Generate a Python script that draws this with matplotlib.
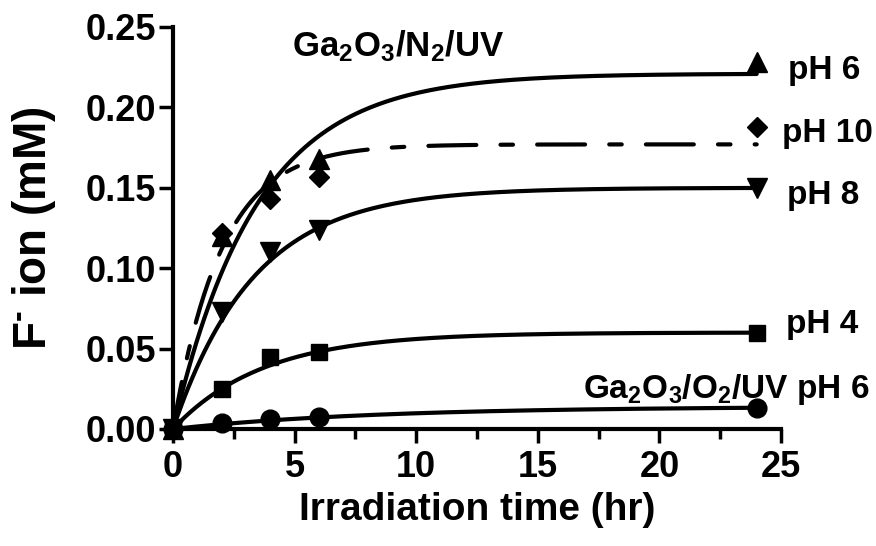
import numpy as np
import matplotlib
matplotlib.use("Agg")
import matplotlib.pyplot as plt
from matplotlib.ticker import MultipleLocator

# sampled points (hr, mM)
time = [0, 2, 4, 6, 24]
ph6 = [0, 0.120, 0.155, 0.168, 0.228]
ph10 = [0, 0.122, 0.143, 0.157, 0.188]
ph8 = [0, 0.073, 0.110, 0.124, 0.150]
ph4 = [0, 0.025, 0.045, 0.048, 0.060]
o2_ph6 = [0, 0.004, 0.0065, 0.0075, 0.013]

# one-phase association fits: plateau (mM), rate k (1/hr)
fit_plateau = {"ph6": 0.221, "ph10": 0.177, "ph8": 0.150, "ph4": 0.060, "o2": 0.014}
fit_rate = {"ph6": 0.29, "ph10": 0.50, "ph8": 0.30, "ph4": 0.27, "o2": 0.12}

plt.rcParams['font.family'] = ['Liberation Sans', 'DejaVu Sans']
plt.rcParams['font.weight'] = 'bold'
plt.rcParams['mathtext.fontset'] = 'custom'
plt.rcParams['mathtext.rm'] = 'Liberation Sans:bold'
plt.rcParams['mathtext.it'] = 'Liberation Sans:bold'
plt.rcParams['mathtext.bf'] = 'Liberation Sans:bold'
plt.rcParams['mathtext.default'] = 'rm'

fig = plt.figure(figsize=(8.76, 5.46), dpi=100)
ax = fig.add_axes([173 / 876, 117 / 546, 608 / 876, 402 / 546])

tt = np.linspace(0, 24, 300)

def curve(key):
    return fit_plateau[key] * (1 - np.exp(-fit_rate[key] * tt))

lw = 3
ax.plot(tt, curve("ph6"), color='black', lw=lw, solid_capstyle='round')
dashed, = ax.plot(tt, curve("ph10"), color='black', lw=lw, dash_capstyle='round')
dashed.set_dashes([11.5, 5.8, 3.0, 5.8])
ax.plot(tt, curve("ph8"), color='black', lw=lw, solid_capstyle='round')
ax.plot(tt, curve("ph4"), color='black', lw=lw, solid_capstyle='round')
ax.plot(tt, curve("o2"), color='black', lw=lw, solid_capstyle='round')

mk = dict(color='black', ls='none', clip_on=False, zorder=5)
ax.plot(time, ph6, marker='^', ms=14, **mk)
ax.plot(time, ph10, marker='D', ms=10.5, **mk)
ax.plot(time, ph8, marker='v', ms=14, **mk)
ax.plot(time, ph4, marker='s', ms=11.5, **mk)
ax.plot(time, o2_ph6, marker='o', ms=13.5, **mk)

ax.set_xlim(0, 25)
ax.set_ylim(0, 0.25)
ax.xaxis.set_major_locator(MultipleLocator(5))
ax.xaxis.set_minor_locator(MultipleLocator(2.5))
ax.yaxis.set_major_locator(MultipleLocator(0.05))
ax.yaxis.set_major_formatter(plt.FormatStrFormatter('%.2f'))

for s in ['top', 'right']:
    ax.spines[s].set_visible(False)
for s in ['left', 'bottom']:
    ax.spines[s].set_linewidth(3)

ax.tick_params(axis='both', which='major', length=10, width=2.5, labelsize=26, pad=2)
ax.tick_params(axis='x', which='major', pad=5)
ax.tick_params(axis='x', which='minor', length=7, width=2.5)

ax.set_xlabel('Irradiation time (hr)', fontsize=28, fontweight='bold', labelpad=5)
ax.set_ylabel(r'F$^{\text{-}}$ ion (mM)', fontsize=33, fontweight='bold', labelpad=20)

txt = dict(fontsize=24, fontweight='bold', va='center', clip_on=False)
ax.text(9.25, 0.238, 'Ga$_2$O$_3$/N$_2$/UV', ha='center', fontsize=25,
        fontweight='bold', va='center', clip_on=False)
ax.text(25.3, 0.223, 'pH 6', ha='left', **txt)
ax.text(25.04, 0.1835, 'pH 10', ha='left', **txt)
ax.text(25.25, 0.1455, 'pH 8', ha='left', **txt)
ax.text(25.2, 0.0647, 'pH 4', ha='left', **txt)
ax.text(16.86, 0.0243, 'Ga$_2$O$_3$/O$_2$/UV pH 6', ha='left', **txt)

fig.savefig('out.png', dpi=100)
